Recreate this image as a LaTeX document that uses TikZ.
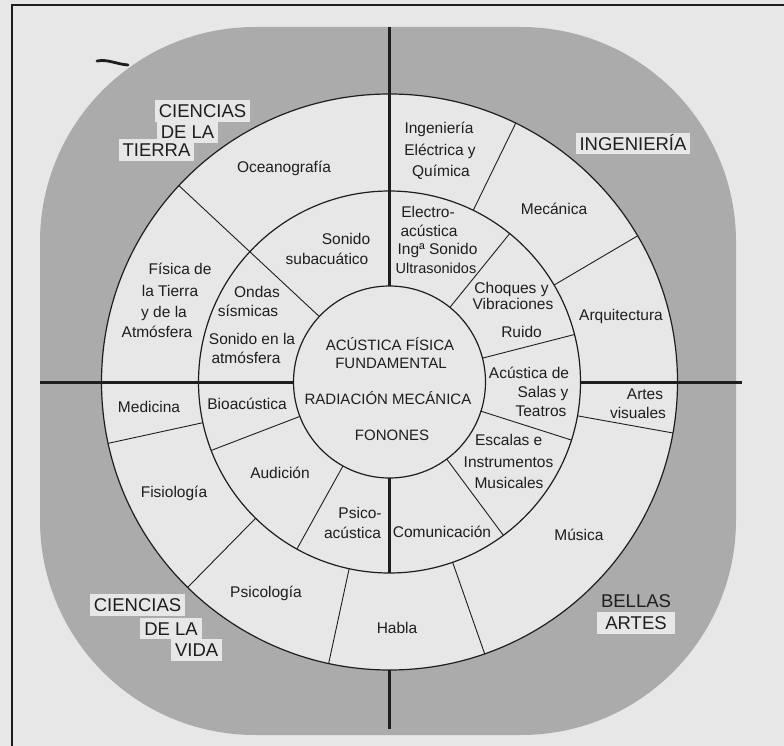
\documentclass[tikz,border=0pt]{standalone}
\usepackage{fontspec}
\setmainfont{Liberation Sans}
\usetikzlibrary{calc}
\definecolor{bgc}{HTML}{E7E7E7}
\definecolor{stip}{HTML}{ABABAB}
\definecolor{ink}{HTML}{1E1E1E}
\begin{document}
\begin{tikzpicture}[x=1pt,y=-1pt,
  lab/.style={inner sep=0pt, text height=11pt, text depth=0pt, font=\fontsize{15.5}{19}\selectfont, text=ink},
  smalllab/.style={lab, font=\fontsize{14.5}{18}\selectfont},
  caplab/.style={inner sep=0pt, text height=10.7pt, text depth=0pt, font=\fontsize{15}{18}\selectfont, text=ink},
  region/.style={fill=bgc, inner xsep=4pt, inner ysep=4pt, text height=13.2pt, text depth=0pt, font=\fontsize{18.5}{21}\selectfont, text=ink},
  ring/.style={draw=ink, line width=1.2pt},
  divider/.style={draw=ink, line width=0.9pt},
  axis/.style={draw=ink, line width=3pt}]

\useasboundingbox (0,0) rectangle (784,746);
\fill[bgc] (0,0) rectangle (784,746);
\draw[ink, line width=2.5pt] (784,5) -- (12,5) -- (12,746);

\coordinate (C) at (389.5,382);
% stippled surround
\fill[stip, rounded corners=215pt] (40,27) rectangle (736,735);

% rings
\fill[bgc] (C) circle[radius=288pt];
\draw[ring] (C) circle[radius=288pt];
\draw[ring] (C) circle[radius=191pt];
\draw[ring] (C) circle[radius=96pt];

% dividers of the inner ring
\foreach \a in {-51,-14.4,17.7,53.4,159,119}
  \draw[divider] ($(C)+(\a:96)$) -- ($(C)+(\a:191)$);
% dividers of the outer ring
\foreach \a in {-64,-30.5,10.2,70.7,167.7,134.5,102.2}
  \draw[divider] ($(C)+(\a:191)$) -- ($(C)+(\a:288)$);
% line crossing both rings
\draw[divider] ($(C)+(-137:96)$) -- ($(C)+(-137:288)$);

% axes
\coordinate (topend) at (389.5,27);
\coordinate (botend) at (389.5,729);
\coordinate (leftend) at (40,382);
\coordinate (rightend) at (742,382);
\draw[axis] (topend) -- ($(C)+(0,-96)$);
\draw[axis] ($(C)+(0,96)$) -- ($(C)+(0,191)$);
\draw[axis] ($(C)+(0,288)$) -- (botend);
\draw[axis] (leftend) -- ($(C)+(-96,0)$);
\draw[axis] ($(C)+(191,0)$) -- (rightend);

% stray mark
\draw[ink, line width=2.8pt, line cap=round] (97,61) .. controls (108,59) and (116,64) .. (128,65);

% centre
\node[caplab] (c1) at (390,345) {ACÚSTICA FÍSICA};
\node[caplab] (c2) at (391,363) {FUNDAMENTAL};
\node[caplab] (c3) at (388,399) {RADIACIÓN MECÁNICA};
\node[caplab] (c4) at (392,435) {FONONES};

% inner ring
\node[lab] (i1a) at (346,239) {Sonido};
\node[lab] (i1b) at (327,259) {subacuático};
\node[lab] (i2a) at (257,292) {Ondas};
\node[lab] (i2b) at (248,311) {sísmicas};
\node[lab] (i3a) at (252,339) {Sonido en la};
\node[lab] (i3b) at (246,358) {atmósfera};
\node[lab] (i4a) at (428,212) {Electro-};
\node[lab] (i4b) at (429,231) {acústica};
\node[lab] (i4c) at (437.5,249) {Ingª Sonido};
\node[smalllab] (i4d) at (436,268) {Ultrasonidos};
\node[lab] (i5a) at (511.5,288) {Choques y};
\node[lab] (i5b) at (513,304) {Vibraciones};
\node[lab] (i5c) at (521.5,332) {Ruido};
\node[lab] (i6a) at (529,373) {Acústica de};
\node[lab] (i6b) at (543,392) {Salas y};
\node[lab] (i6c) at (541,411) {Teatros};
\node[lab] (i7a) at (508.7,440) {Escalas e};
\node[lab] (i7b) at (508.5,462) {Instrumentos};
\node[lab] (i7c) at (509,483) {Musicales};
\node[lab] (i8) at (442,532) {Comunicación};
\node[lab] (i9a) at (360,513) {Psico-};
\node[lab] (i9b) at (352.5,533) {acústica};
\node[lab] (i10) at (280,473) {Audición};
\node[lab] (i11) at (247,404) {Bioacústica};

% outer ring
\node[lab] (o1) at (284,167) {Oceanografía};
\node[lab] (o2a) at (180,269) {Física de};
\node[lab] (o2b) at (170,291) {la Tierra};
\node[lab] (o2c) at (164,312) {y de la};
\node[lab] (o2d) at (157,332) {Atmósfera};
\node[lab] (o3a) at (439,128) {Ingeniería};
\node[lab] (o3b) at (440,150) {Eléctrica y};
\node[lab] (o3c) at (441,171) {Química};
\node[lab] (o4) at (554,209) {Mecánica};
\node[lab] (o5) at (621,315) {Arquitectura};
\node[lab] (o6a) at (645,394) {Artes};
\node[lab] (o6b) at (638,413) {visuales};
\node[lab] (o7) at (579,535) {Música};
\node[lab] (o8) at (397,628) {Habla};
\node[lab] (o9) at (266,592) {Psicología};
\node[lab] (o10) at (174,492) {Fisiología};
\node[lab] (o11) at (149,407) {Medicina};

% region labels
\node[region] (r1a) at (202.5,111) {CIENCIAS};
\node[region] (r1b) at (187.5,132) {DE LA};
\node[region] (r1c) at (156.5,150) {TIERRA};
\node[region] (r2) at (633,143.5) {INGENIERÍA};
\node[region] (r3a) at (137.5,605) {CIENCIAS};
\node[region] (r3b) at (171,628.5) {DE LA};
\node[region] (r3c) at (196.7,650) {VIDA};
\node[region, align=center, font=\fontsize{18.5}{22}\selectfont] (r4) at (636,623) {BELLAS\\ARTES};
\end{tikzpicture}
\end{document}
